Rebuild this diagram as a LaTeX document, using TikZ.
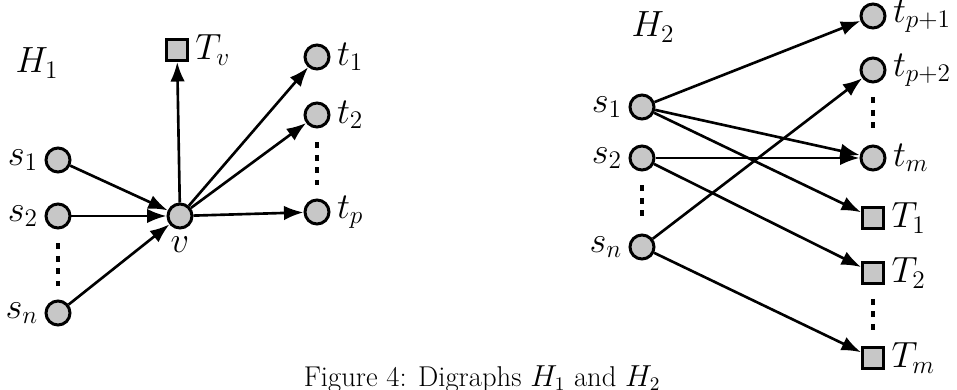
\documentclass[tikz,border=0pt]{standalone}
\usepackage{amsmath,amssymb}
\usepackage{tikz}
\usetikzlibrary{arrows.meta, positioning}

\begin{document}
\begin{tikzpicture}[
    vert/.style={circle, draw, fill=black!22, line width=1.7pt, minimum size=0.48cm, inner sep=0pt},
    term/.style={rectangle, draw, fill=black!22, line width=1.7pt, minimum size=0.42cm, inner sep=0pt},
    arrow/.style={-{Latex[length=3.9mm, width=2.9mm]}, line width=1.5pt},
    vdots/.style={line width=1.8pt, dash pattern=on 0.12cm off 0.13cm},
    lab/.style={font=\fontsize{22}{25}\selectfont},
    label distance=0pt,
    every label/.style={font=\fontsize{22}{25}\selectfont, inner sep=3.5pt}
]
\useasboundingbox (0,0) rectangle (19.14,7.8);

% H_1
\node[lab] (h1) at (0.74,6.54) {$H_1$};
\node[vert] (v) at (3.60,3.48) {};
\node[lab, below=0.14cm of v, inner sep=0pt] (vlab) {$v$};
\node[term, label=right:$T_v$] (tv) at (3.54,6.80) {};
\node[vert, label=left:$s_1$] (a1) at (1.16,4.60) {};
\node[vert, label=left:$s_2$] (a2) at (1.16,3.48) {};
\node[vert, label=left:$s_n$] (an) at (1.16,1.54) {};
\node[vert, label=right:$t_1$] (b1) at (6.34,6.66) {};
\node[vert, label=right:$t_2$] (b2) at (6.34,5.50) {};
\node[vert, label=right:$t_p$] (bp) at (6.34,3.56) {};

\draw[arrow] (a1) -- (v);
\draw[arrow] (a2) -- (v);
\draw[arrow] (an) -- (v);
\draw[arrow] (v) -- (tv);
\draw[arrow] (v) -- (b1);
\draw[arrow] (v) -- (b2);
\draw[arrow] (v) -- (bp);
\draw[vdots] ([yshift=-0.28cm]a2.south) -- ([yshift=0.28cm]an.north);
\draw[vdots] ([yshift=-0.28cm]b2.south) -- ([yshift=0.28cm]bp.north);

% H_2
\node[lab] (h2) at (13.06,7.26) {$H_2$};
\node[vert, label=left:$s_1$] (c1) at (12.84,5.66) {};
\node[vert, label=left:$s_2$] (c2) at (12.84,4.64) {};
\node[vert, label=left:$s_n$] (cn) at (12.84,2.86) {};
\node[vert, label=right:$t_{p+1}$] (d1) at (17.46,7.48) {};
\node[vert, label=right:$t_{p+2}$] (d2) at (17.46,6.40) {};
\node[vert, label=right:$t_m$] (dm) at (17.46,4.64) {};
\node[term, label=right:$T_1$] (e1) at (17.46,3.44) {};
\node[term, label=right:$T_2$] (e2) at (17.46,2.34) {};
\node[term, label=right:$T_m$] (em) at (17.46,0.64) {};

\draw[arrow] (c1) -- (d1);
\draw[arrow] (c1) -- (dm);
\draw[arrow] (c1) -- (e1);
\draw[arrow] (c2) -- (dm);
\draw[arrow] (c2) -- (e2);
\draw[arrow] (cn) -- (d2);
\draw[arrow] (cn) -- (em);
\draw[vdots] ([yshift=-0.28cm]c2.south) -- ([yshift=0.28cm]cn.north);
\draw[vdots] ([yshift=-0.28cm]d2.south) -- ([yshift=0.28cm]dm.north);
\draw[vdots] ([yshift=-0.28cm]e2.south) -- ([yshift=0.28cm]em.north);

% caption
\node[font=\fontsize{16.3}{19}\selectfont, anchor=north, inner sep=0pt] (cap) at (9.64,0.50) {Figure 4: Digraphs $H_1$ and $H_2$};
\end{tikzpicture}
\end{document}
